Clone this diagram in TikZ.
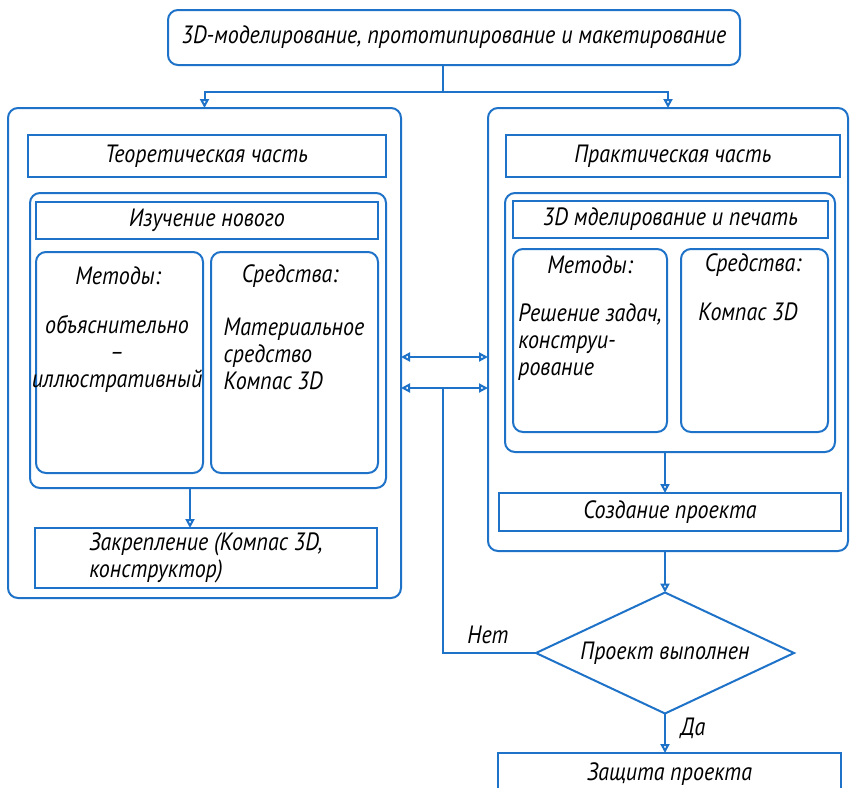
\documentclass[tikz,border=0pt]{standalone}
\usepackage{fontspec}
\setmainfont{PT Sans}[FakeStretch=0.88]
\usetikzlibrary{
  arrows.meta,
  positioning,
  shapes.geometric,
}
\definecolor{flowblue}{RGB}{30,114,200}
\newcommand\flowfont{\itshape\fontsize{25}{27}\selectfont}
\tikzset{
  >={Triangle[open,length=9pt,width=9pt]},
  line/.style={draw=flowblue, line width=2pt},
  flowbox/.style={line, inner sep=0pt, outer sep=0pt, font=\flowfont},
  roundbox/.style={flowbox, rounded corners=10pt},
  flowlabel/.style={inner sep=0pt, font=\flowfont},
}

\begin{document}
\begin{tikzpicture}[x=1pt, y=-1pt]
  \useasboundingbox (0,0) rectangle (850,787);
  % top
  \node [roundbox, minimum width=572pt, minimum height=55pt] (topic) at (454,37.5)
    {3D-моделирование, прототипирование и макетирование};
  % theory
  \node [roundbox, minimum width=393pt, minimum height=490pt] (teor) at (204.5,353) {};
  \node [flowbox, minimum width=358pt, minimum height=42pt] (teorHead) at (206.5,156) {Теоретическая часть};
  \node [roundbox, minimum width=356pt, minimum height=295pt] (study) at (208,340.5) {};
  \node [flowbox, minimum width=342pt, minimum height=37pt] (studyHead) at (207,220.5) {Изучение нового};
  \node [roundbox, minimum width=167pt, minimum height=221pt] (methL) at (119.5,362.5) {};
  \node [roundbox, minimum width=167pt, minimum height=221pt] (toolL) at (294.5,362.5) {};
  \node [flowlabel] (methLtitle) at (118,276) {Методы:};
  \node [flowlabel, align=center] (methLtext) at (117,354) {объяснительно\\–\\иллюстративный};
  \node [flowlabel] (toolLtitle) at (290,276) {Средства:};
  \node [flowlabel, align=left] (toolLtext) at (294,354) {Материальное\\средство\\Компас 3D};
  \node [flowbox, minimum width=342pt, minimum height=60pt, align=left] (fix) at (206,558)
    {Закрепление (Компас 3D,\\конструктор)};
  % practice
  \node [roundbox, minimum width=360pt, minimum height=443pt] (prak) at (668,329.5) {};
  \node [flowbox, minimum width=334pt, minimum height=42pt] (prakHead) at (673,156) {Практическая часть};
  \node [roundbox, minimum width=330pt, minimum height=259pt] (model) at (670,322.5) {};
  \node [flowbox, minimum width=315pt, minimum height=37pt] (modelHead) at (670.5,219.5) {3D мделирование и печать};
  \node [roundbox, minimum width=154pt, minimum height=183pt] (methR) at (590,340.5) {};
  \node [roundbox, minimum width=147pt, minimum height=183pt] (toolR) at (754.5,340.5) {};
  \node [flowlabel] (methRtitle) at (590,265) {Методы:};
  \node [flowlabel, align=left] (methRtext) at (590,342) {Решение задач,\\конструи-\\рование};
  \node [flowlabel] (toolRtitle) at (753,265) {Средства:};
  \node [flowlabel] (toolRtext) at (748,312) {Компас 3D};
  \node [flowbox, minimum width=342pt, minimum height=38pt] (create) at (670,512) {Создание проекта};
  % decision
  \node [flowbox, diamond, aspect=2.1, minimum width=258pt, minimum height=121pt] (check) at (665,653) {Проект выполнен};
  \node [flowbox, minimum width=343pt, minimum height=42pt] (defense) at (669.5,774) {Защита проекта};
  \node [flowlabel] (no) at (488,635) {Нет};
  \node [flowlabel] (yes) at (693,728) {Да};
  % connectors
  \coordinate (fork) at (443,92);
  \coordinate (studyOut) at ([xshift=-18pt]study.south);
  \coordinate (modelOut) at ([xshift=-5pt]model.south);
  \coordinate (linkA) at ([yshift=-4pt]teor.east);
  \coordinate (linkB) at ([yshift=-35pt]teor.east);
  \draw [line] (topic.south -| fork) -- (fork);
  \draw [line, ->] (fork) -| (teor.north);
  \draw [line, ->] (fork) -| (prak.north);
  \draw [line, ->] (studyOut) -- (studyOut |- fix.north);
  \draw [line, ->] (modelOut) -- (modelOut |- create.north);
  \draw [line, <->] (linkA) -- (linkA -| prak.west);
  \draw [line, <->] (linkB) -- (linkB -| prak.west);
  \draw [line] (check.west) -| (linkB -| fork);
  \draw [line, ->] (check.north |- prak.south) -- (check.north);
  \draw [line, ->] (check.south) -- (check.south |- defense.north);
\end{tikzpicture}
\end{document}
